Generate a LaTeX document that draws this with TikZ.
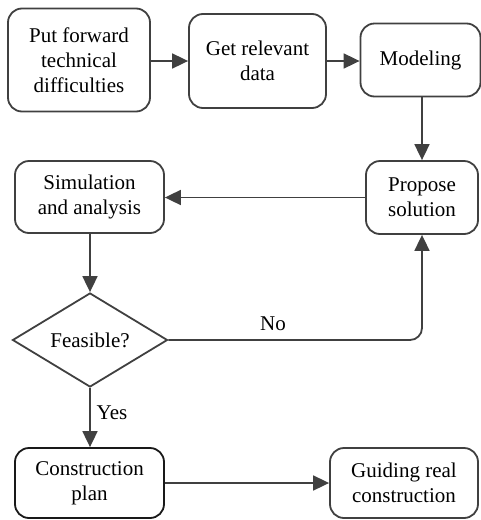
\documentclass[tikz,border=0pt]{standalone}
\usepackage{fontspec}
\setmainfont{Liberation Serif}
\usetikzlibrary{shapes.geometric,arrows.meta}
\definecolor{linec}{HTML}{404040}
\begin{document}
\begin{tikzpicture}[x=1pt,y=-1pt,
  box/.style={draw=linec,line width=1.8pt,rounded corners=14pt,align=center,inner sep=0pt,
    font=\fontsize{21}{25}\selectfont},
  dia/.style={draw=linec,line width=1.8pt,diamond,aspect=1.65,inner sep=0pt,
    minimum width=155pt,minimum height=94pt,font=\fontsize{21}{25}\selectfont},
  conn/.style={draw=linec,line width=1.8pt,-{Triangle[length=16pt,width=15pt]}},
  lbl/.style={font=\fontsize{21}{25}\selectfont}]
\useasboundingbox (0,0) rectangle (481,520);
\node[box,minimum width=142pt,minimum height=103pt] (put) at (79,60) {Put forward\\technical\\difficulties};
\node[box,minimum width=137pt,minimum height=94pt] (get) at (257.5,61) {Get relevant\\data};
\node[box,minimum width=120pt,minimum height=73pt] (mod) at (420.5,60) {Modeling};
\node[box,minimum width=112pt,minimum height=73pt] (prop) at (422,197.5) {Propose\\solution};
\node[box,minimum width=149pt,minimum height=72pt] (sim) at (89.5,197) {Simulation\\and analysis};
\node[dia] (feas) at (90,340) {Feasible?};
\node[box,draw=black!90,minimum width=149pt,minimum height=70pt] (cons) at (89.5,483) {Construction\\plan};
\node[box,minimum width=148pt,minimum height=70pt] (guide) at (404,483) {Guiding real\\construction};
\draw[conn] (put.east |- get.west) -- (get.west);
\draw[conn] (get.east) -- (get.east -| mod.west);
\draw[conn] (prop.north |- mod.south) -- (prop.north);
\draw[conn] (prop.west) -- (sim.east |- prop.west);
\draw[conn] (sim.south -| feas.north) -- (feas.north);
\draw[conn,rounded corners=12pt] (feas.east) -- (feas.east -| prop.south) -- (prop.south);
\node[lbl] (no) at (273,324) {No};
\draw[conn] (feas.south) -- (cons.north -| feas.south);
\node[lbl] (yes) at (112,413) {Yes};
\draw[conn] (cons.east) -- (guide.west);
\end{tikzpicture}
\end{document}
